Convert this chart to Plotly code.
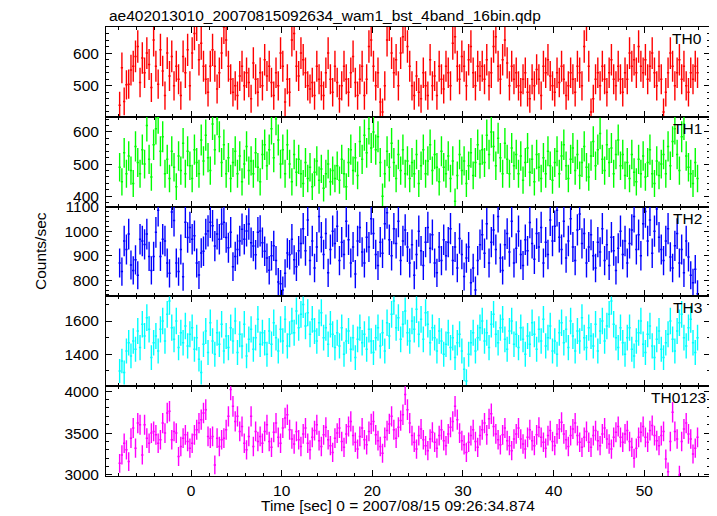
import numpy as np
import plotly.graph_objects as go
from plotly.subplots import make_subplots

TITLE = "ae402013010_20070815092634_wam1_bst_4band_16bin.qdp"
X_LABEL = "Time [sec] 0 = 2007/08/15 09:26:34.874"
Y_LABEL = "Counts/sec"
BAND_NAMES = ["TH0", "TH1", "TH2", "TH3", "TH0123"]
BIN_START = -7.875   # centre of first bin (sec)
BIN_WIDTH = 0.25     # sec

TH0 = [
    440, 555, 452, 503, 505, 548, 560, 590, 620, 510, 585, 540, 600, 565, 495, 640,
    560, 505, 610, 545, 470, 600, 530, 590, 500, 560, 520, 470, 590, 540, 610, 500,
    600, 660, 690, 580, 630, 560, 520, 480, 560, 610, 560, 490, 540, 600, 680, 640,
    560, 520, 480, 500, 470, 530, 560, 500, 540, 510, 460, 570, 520, 480, 540, 500,
    580, 530, 560, 510, 470, 540, 500, 600, 560, 450, 520, 480, 640, 660, 560, 530,
    600, 580, 540, 500, 490, 510, 470, 560, 520, 500, 470, 540, 600, 520, 480, 560,
    510, 460, 500, 560, 520, 480, 540, 590, 510, 470, 520, 560, 470, 520, 620, 640,
    560, 500, 540, 450, 420, 500, 640, 690, 600, 540, 580, 500, 600, 650, 690, 620,
    560, 500, 470, 530, 480, 460, 540, 500, 470, 580, 500, 530, 470, 560, 520, 490,
    560, 540, 500, 630, 650, 560, 520, 590, 560, 500, 580, 620, 540, 500, 560, 530,
    560, 520, 580, 500, 540, 620, 650, 560, 520, 580, 640, 570, 500, 560, 520, 540,
    500, 480, 520, 540, 480, 460, 520, 500, 550, 520, 470, 560, 540, 580, 530, 500,
    480, 540, 510, 560, 520, 470, 500, 540, 520, 480, 560, 540, 500, 620, 690, 560,
    420, 460, 520, 540, 500, 560, 520, 480, 540, 580, 520, 500, 560, 520, 480, 540,
    520, 600, 560, 580, 540, 620, 560, 540, 580, 520, 560, 600, 540, 500, 560, 520,
    420, 480, 540, 600, 560, 500, 540, 580, 520, 560, 500, 480, 540, 520, 560, 540,
]

TH1 = [
    490, 445, 535, 470, 525, 480, 440, 555, 505, 470, 545, 500, 620, 515, 460, 560,
    610, 645, 540, 585, 470, 515, 455, 540, 490, 430, 525, 480, 565, 470, 540, 495,
    455, 545, 505, 470, 575, 510, 590, 520, 480, 625, 545, 640, 585, 505, 560, 470,
    520, 455, 505, 540, 470, 525, 445, 500, 555, 480, 510, 470, 535, 490, 445, 530,
    560, 495, 545, 610, 520, 640, 575, 500, 545, 470, 560, 500, 445, 530, 475, 515,
    470, 440, 505, 455, 490, 430, 475, 510, 450, 485, 425, 470, 500, 445, 480, 455,
    495, 450, 515, 470, 430, 505, 545, 480, 520, 465, 570, 515, 590, 535, 610, 550,
    600, 545, 585, 505, 400, 470, 540, 490, 565, 505, 455, 530, 480, 545, 470, 510,
    455, 505, 470, 530, 440, 495, 545, 470, 510, 560, 480, 530, 490, 445, 540, 490,
    470, 525, 455, 510, 385, 465, 530, 480, 510, 440, 495, 535, 465, 505, 560, 500,
    545, 505, 590, 530, 600, 555, 495, 580, 520, 470, 565, 515, 470, 550, 495, 530,
    470, 525, 450, 505, 550, 475, 515, 445, 530, 490, 455, 520, 470, 540, 495, 450,
    505, 540, 470, 525, 560, 495, 455, 515, 550, 480, 530, 465, 505, 555, 490, 460,
    525, 570, 495, 545, 595, 515, 480, 560, 505, 550, 470, 530, 575, 495, 530, 465,
    505, 455, 530, 475, 445, 515, 470, 525, 460, 505, 545, 470, 440, 510, 465, 500,
    530, 470, 555, 495, 570, 610, 530, 480, 585, 625, 525, 490, 470, 440, 505, 455,
]

TH2 = [
    870, 835, 960, 925, 988, 862, 840, 883, 820, 967, 960, 946, 988, 897, 840, 897,
    995, 1085, 897, 967, 960, 870, 828, 1078, 1043, 870, 835, 925, 814, 1036, 974, 1015,
    967, 981, 870, 821, 911, 918, 988, 1001, 1036, 1022, 939, 988, 967, 1029, 1036, 974,
    932, 995, 855, 897, 925, 960, 1008, 967, 1001, 1029, 953, 939, 904, 995, 1001, 953,
    918, 890, 841, 900, 940, 880, 793, 786, 760, 828, 911, 904, 967, 883, 855, 920,
    950, 1010, 920, 1045, 880, 960, 850, 935, 1060, 975, 905, 990, 830, 925, 1000, 950,
    1020, 880, 955, 905, 1040, 965, 870, 935, 825, 960, 1015, 915, 870, 975, 935, 1050,
    990, 905, 860, 955, 910, 1030, 1075, 965, 900, 1010, 950, 1040, 880, 960, 1005, 935,
    870, 945, 820, 905, 1000, 920, 860, 955, 1015, 930, 985, 870, 830, 935, 880, 965,
    900, 955, 1010, 880, 935, 850, 970, 905, 815, 890, 935, 790, 850, 760, 880, 945,
    985, 910, 1030, 870, 955, 1005, 925, 1060, 890, 840, 945, 990, 915, 1040, 870, 930,
    1000, 905, 860, 965, 920, 1035, 950, 885, 990, 935, 1015, 870, 955, 905, 1045, 960,
    1020, 1085, 975, 925, 1040, 890, 960, 1050, 935, 880, 1005, 1070, 950, 990, 870, 935,
    985, 900, 850, 955, 915, 1010, 880, 945, 860, 975, 920, 840, 930, 1000, 905, 960,
    870, 950, 1005, 1060, 925, 985, 900, 1030, 1080, 960, 1045, 910, 1000, 1090, 975, 925,
    880, 960, 1010, 895, 850, 940, 990, 870, 925, 830, 960, 895, 820, 790, 845, 745,
]

TH3 = [
    1300, 1360, 1290, 1420, 1470, 1390, 1480, 1430, 1540, 1440, 1580, 1510, 1620, 1550, 1380, 1470,
    1510, 1420, 1550, 1600, 1480, 1640, 1720, 1560, 1490, 1600, 1440, 1530, 1470, 1570, 1450, 1520,
    1560, 1430, 1500, 1370, 1290, 1460, 1540, 1410, 1590, 1480, 1400, 1530, 1460, 1580, 1420, 1510,
    1440, 1560, 1480, 1600, 1410, 1520, 1450, 1580, 1390, 1490, 1550, 1430, 1500, 1610, 1460, 1530,
    1470, 1400, 1540, 1460, 1590, 1500, 1420, 1550, 1480, 1610, 1450, 1520, 1600, 1530, 1660, 1560,
    1640, 1700, 1570, 1650, 1520, 1610, 1540, 1480, 1590, 1650, 1500, 1560, 1460, 1580, 1520, 1440,
    1530, 1450, 1560, 1400, 1480, 1540, 1430, 1500, 1380, 1490, 1560, 1470, 1520, 1430, 1550, 1480,
    1410, 1500, 1560, 1450, 1530, 1420, 1590, 1510, 1640, 1720, 1560, 1620, 1490, 1580, 1660, 1530,
    1480, 1600, 1550, 1670, 1520, 1610, 1490, 1650, 1580, 1470, 1560, 1500, 1420, 1540, 1480, 1400,
    1460, 1530, 1440, 1500, 1380, 1470, 1520, 1420, 1310, 1240, 1400, 1470, 1530, 1420, 1500, 1560,
    1600, 1480, 1530, 1440, 1580, 1640, 1520, 1470, 1560, 1610, 1490, 1430, 1540, 1600, 1460, 1520,
    1440, 1560, 1490, 1400, 1510, 1460, 1590, 1520, 1430, 1550, 1480, 1610, 1450, 1500, 1570, 1420,
    1480, 1400, 1530, 1590, 1470, 1550, 1440, 1600, 1510, 1420, 1540, 1480, 1620, 1500, 1440, 1560,
    1510, 1450, 1580, 1420, 1540, 1600, 1480, 1570, 1640, 1720, 1580, 1500, 1440, 1560, 1470, 1400,
    1500, 1560, 1430, 1390, 1480, 1530, 1600, 1460, 1410, 1520, 1570, 1450, 1380, 1490, 1540, 1430,
    1380, 1470, 1520, 1600, 1490, 1420, 1540, 1590, 1640, 1500, 1450, 1560, 1610, 1470, 1410, 1500,
]

TH0123 = [
    3140, 3240, 3380, 3300, 3160, 3440, 3560, 3320, 3620, 3600, 3240, 3600, 3440, 3380, 3500, 3520,
    3480, 3380, 3420, 3620, 3500, 3740, 3760, 3420, 3520, 3500, 3220, 3340, 3440, 3480, 3400, 3320,
    3380, 3480, 3540, 3620, 3660, 3740, 3780, 3460, 3440, 3460, 3120, 3440, 3340, 3420, 3440, 3540,
    3700, 4020, 3820, 3640, 3700, 3520, 3580, 3380, 3300, 3460, 3700, 3340, 3520, 3400, 3460, 3380,
    3520, 3600, 3400, 3330, 3510, 3620, 3450, 3380, 3560, 3680, 3720, 3540, 3430, 3370, 3520, 3420,
    3340, 3490, 3560, 3380, 3300, 3450, 3530, 3600, 3410, 3340, 3480, 3570, 3420, 3350, 3270, 3440,
    3500, 3560, 3400, 3330, 3490, 3580, 3640, 3470, 3390, 3310, 3460, 3560, 3420, 3360, 3520, 3610,
    3640, 3480, 3410, 3340, 3260, 3450, 3530, 3610, 3700, 3540, 3440, 3570, 3650, 3720, 3960, 3780,
    3620, 3470, 3390, 3310, 3470, 3550, 3420, 3350, 3290, 3430, 3510, 3390, 3320, 3470, 3540, 3410,
    3350, 3490, 3570, 3640, 3820, 3660, 3500, 3410, 3360, 3270, 3390, 3470, 3540, 3400, 3330, 3470,
    3540, 3620, 3480, 3670, 3730, 3580, 3490, 3420, 3360, 3480, 3560, 3410, 3350, 3290, 3430, 3490,
    3560, 3430, 3370, 3310, 3450, 3540, 3410, 3350, 3480, 3570, 3450, 3390, 3320, 3470, 3530, 3400,
    3350, 3490, 3550, 3630, 3490, 3420, 3340, 3470, 3550, 3620, 3470, 3390, 3330, 3450, 3520, 3390,
    3330, 3470, 3530, 3410, 3350, 3490, 3560, 3430, 3370, 3310, 3450, 3510, 3580, 3450, 3390, 3490,
    3530, 3400, 3330, 3200, 3320, 3450, 3510, 3580, 3450, 3390, 3530, 3590, 3470, 3410, 3350, 3470,
    3520, 3190, 3040, 3400, 3750, 3520, 3430, 3000, 3400, 3550, 3620, 3490, 3430, 3250, 3320, 3450,
]

SERIES = [TH0, TH1, TH2, TH3, TH0123]
COLORS = ["#ff0000", "#00ff00", "#0000ff", "#00ffff", "#ff00ff"]
Y_RANGES = [[405, 680], [368, 647], [734, 1100], [1208, 1748], [2988, 4060]]
Y_DTICK = [100, 100, 100, 200, 500]
Y_MINOR = [20, 20, 20, 100, 100]
X_RANGE = [-9.38, 57.25]

# page body adds an 8px offset; lay out in window pixels and shift
OFF = 8
W, H = 717 - OFF, 516 - OFF
ML, MT = 106 - OFF, 27 - OFF
PW, PH = 604, 449
MR = W - ML - PW
MB = H - MT - PH
FONT = "Liberation Sans, Arial, Helvetica, sans-serif"
FS = 15.5

fig = make_subplots(rows=5, cols=1, shared_xaxes=True, vertical_spacing=0)

for k, (vals, col) in enumerate(zip(SERIES, COLORS)):
    v = np.array(vals, dtype=float)
    t = BIN_START + BIN_WIDTH * np.arange(len(v))
    err = np.sqrt(v / BIN_WIDTH)  # Poisson error on rate
    fig.add_trace(go.Scatter(
        x=t, y=v, mode="markers",
        marker=dict(size=1, color=col, opacity=0),
        error_x=dict(type="constant", value=BIN_WIDTH / 2, width=0, thickness=1.5, color=col),
        error_y=dict(type="data", array=err, width=0, thickness=1.4, color=col),
        showlegend=False, hoverinfo="skip",
    ), row=k + 1, col=1)

for k in range(5):
    sx = "xaxis" if k == 0 else f"xaxis{k+1}"
    sy = "yaxis" if k == 0 else f"yaxis{k+1}"
    fig.layout[sx].update(
        range=X_RANGE, showline=True, linecolor="black", linewidth=1, mirror="ticks",
        ticks="inside", ticklen=6, tickcolor="black", tickwidth=1,
        tick0=0, dtick=10, showgrid=False, zeroline=False,
        minor=dict(ticks="inside", dtick=2, tick0=0, ticklen=3, tickcolor="black"),
        tickfont=dict(family=FONT, size=FS, color="black"),
        showticklabels=(k == 4),
    )
    fig.layout[sy].update(
        range=Y_RANGES[k], showline=True, linecolor="black", linewidth=1, mirror="ticks",
        ticks="inside", ticklen=6, tickcolor="black", tickwidth=1,
        tick0=0, dtick=Y_DTICK[k], showgrid=False, zeroline=False,
        minor=dict(ticks="inside", dtick=Y_MINOR[k], tick0=0, ticklen=3, tickcolor="black"),
        tickfont=dict(family=FONT, size=FS, color="black"),
        ticklabelstandoff=3,
    )

def px2paper(xp, yp):
    # xp, yp in browser-window pixels
    return (xp - OFF - ML) / PW, (MT + PH - (yp - OFF)) / PH

annots = []
x0, y0 = px2paper(107, 15)
annots.append(dict(text=TITLE, x=x0, y=y0, xanchor="left", yanchor="middle"))
x0, y0 = px2paper(398, 506)
annots.append(dict(text=X_LABEL, x=x0, y=y0, xanchor="center", yanchor="middle"))
x0, y0 = px2paper(40, 251)
annots.append(dict(text=Y_LABEL, x=x0, y=y0, xanchor="center", yanchor="middle", textangle=-90))
label_pos = [(704, 38), (704, 128), (704, 218), (704, 307), (708, 397)]
for name, (xp, yp) in zip(BAND_NAMES, label_pos):
    x0, y0 = px2paper(xp, yp)
    annots.append(dict(text=name, x=x0, y=y0, xanchor="right", yanchor="middle"))
for a in annots:
    a.update(xref="paper", yref="paper", showarrow=False,
             font=dict(family=FONT, size=FS, color="black"))

fig.update_layout(
    width=W, height=H, margin=dict(l=ML, r=MR, t=MT, b=MB),
    paper_bgcolor="white", plot_bgcolor="white",
    annotations=annots, showlegend=False,
)

fig.write_html("out.html")
